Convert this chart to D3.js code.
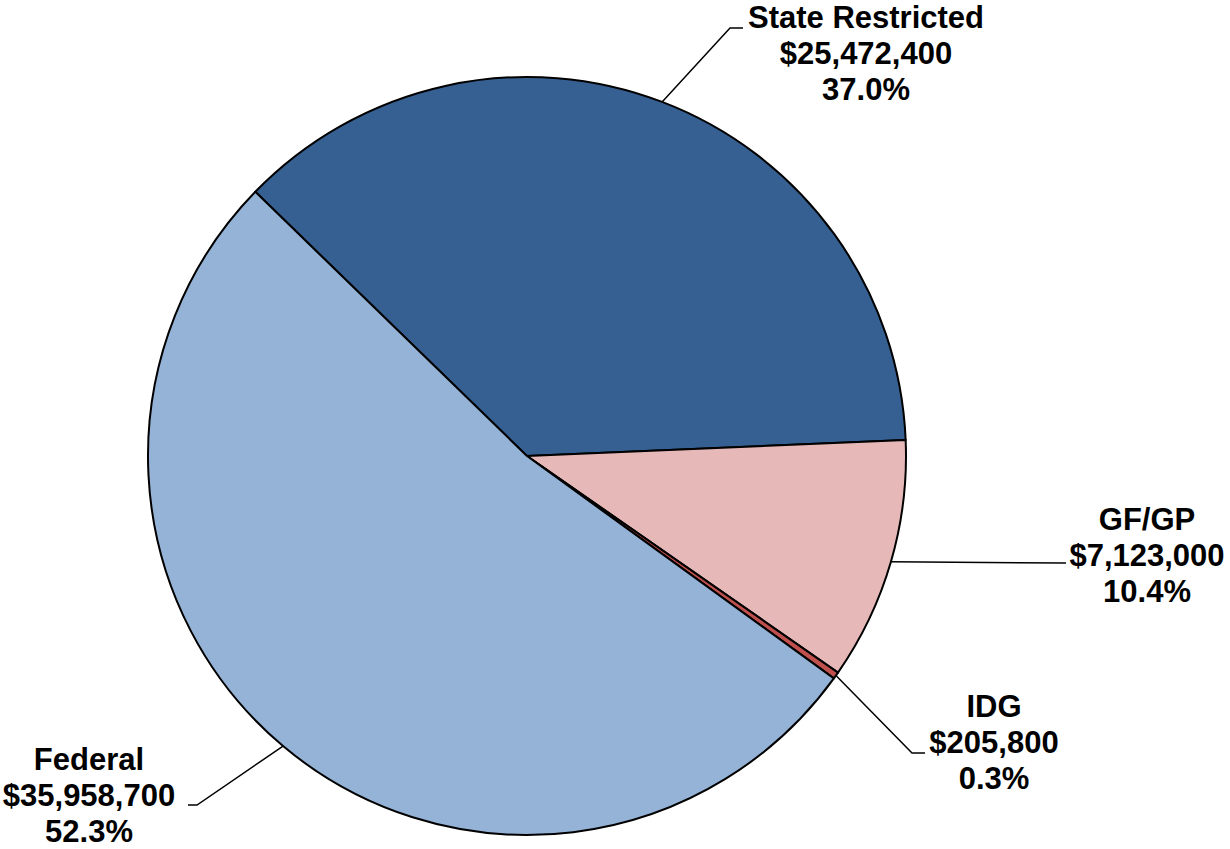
<!DOCTYPE html>
<html>
<head>
<meta charset="utf-8">
<script src="https://cdn.jsdelivr.net/npm/d3@7"></script>
<style>
  html, body { margin: 0; padding: 0; background: #fff; }
  svg { display: block; }
  text { font-family: "Liberation Sans", Arial, sans-serif; font-weight: bold; }
</style>
</head>
<body>
<svg id="chart" width="1230" height="849"></svg>
<script>
// Data
const categories = ["State Restricted", "GF/GP", "IDG", "Federal"];
const values = [25472400, 7123000, 205800, 35958700];
const valueLabels = ["$25,472,400", "$7,123,000", "$205,800", "$35,958,700"];
const percentLabels = ["37.0%", "10.4%", "0.3%", "52.3%"];
const colors = ["#366092", "#E6B9B8", "#C0504D", "#95B3D7"];

// Layout
const W = 1230, H = 849;
const cx = 527, cy = 456, R = 379;
const startDeg = -45.8;
const fontSize = 31;
const lineGap = 36;
// label layout: text center x, first baseline y, elbow point, end of horizontal leader
const labelLayout = [
  { tx: 866, ty: 28, elbow: [730, 28], end: [743, 28] },
  { tx: 1147, ty: 530, elbow: null, end: [1066, 563] },
  { tx: 994, ty: 717, elbow: [912, 753], end: [925, 753] },
  { tx: 89, ty: 770, elbow: [197, 805], end: [188, 805] }
];

const svg = d3.select("#chart");
const g = svg.append("g").attr("transform", `translate(${cx},${cy})`);

const data = categories.map((c, i) => ({ name: c, value: values[i], i }));
const pie = d3.pie().value(d => d.value).sort(null)
  .startAngle(startDeg * Math.PI / 180)
  .endAngle(startDeg * Math.PI / 180 + 2 * Math.PI);
const arcs = pie(data);
const arc = d3.arc().innerRadius(0).outerRadius(R);

g.selectAll("path.slice").data(arcs).join("path")
  .attr("class", "slice")
  .attr("d", arc)
  .attr("fill", d => colors[d.data.i])
  .attr("stroke", "#000")
  .attr("stroke-width", 2)
  .attr("stroke-linejoin", "round");

// leader lines
arcs.forEach(a => {
  const i = a.data.i;
  const mid = (a.startAngle + a.endAngle) / 2;
  const px = cx + R * Math.sin(mid), py = cy - R * Math.cos(mid);
  const L = labelLayout[i];
  const pts = [[px, py]];
  if (L.elbow) pts.push(L.elbow);
  pts.push(L.end);
  svg.append("path")
    .attr("d", d3.line()(pts))
    .attr("fill", "none")
    .attr("stroke", "#000")
    .attr("stroke-width", 1.5);
  const t = svg.append("text")
    .attr("text-anchor", "middle")
    .attr("font-size", fontSize)
    .attr("fill", "#000");
  [categories[i], valueLabels[i], percentLabels[i]].forEach((s, k) => {
    t.append("tspan").attr("x", L.tx).attr("y", L.ty + k * lineGap).text(s);
  });
});
</script>
</body>
</html>
